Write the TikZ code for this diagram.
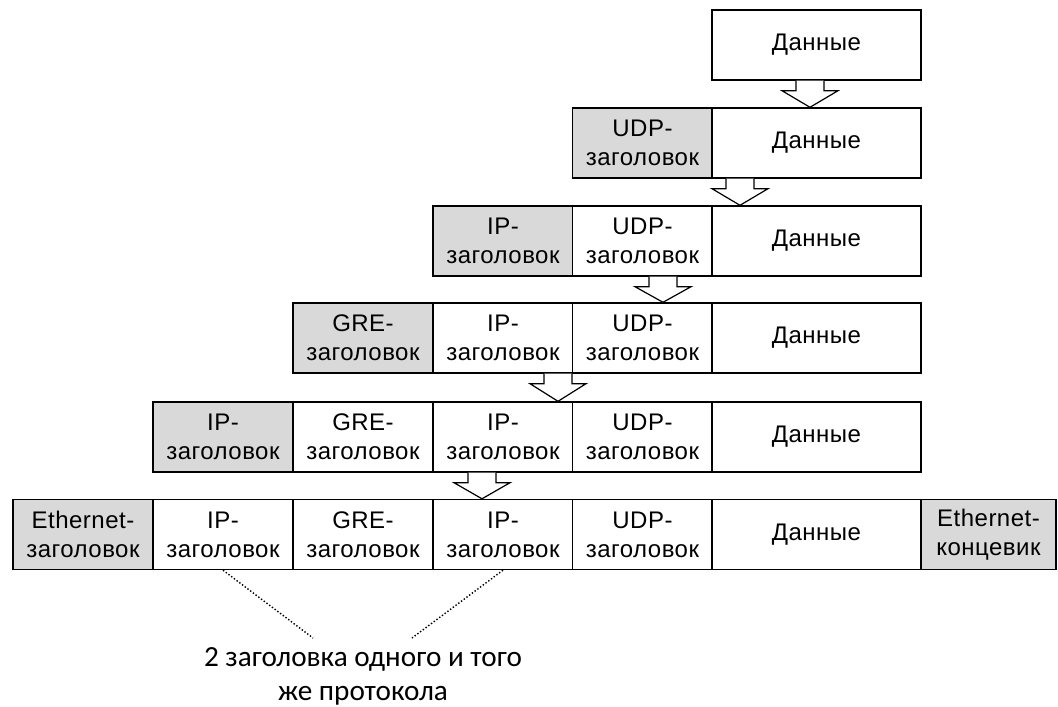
\documentclass[tikz,border=0pt]{standalone}
\usepackage{fontspec}
\setmainfont[LetterSpace=2]{Liberation Sans}
\newfontfamily\notefont{Carlito}
\usetikzlibrary{calc}
\tikzset{
  cell/.style={draw, line width=1.4pt, minimum height=70pt, inner sep=0pt, align=center,
    font=\fontsize{24}{29}\selectfont},
  hdr/.style={cell, fill=black!15},
  dat/.style={cell, fill=white},
  blockarrow/.style={draw, line width=1.2pt, fill=white, line join=miter},
  guide/.style={dotted, line width=1.4pt},
  note/.style={align=center, font=\notefont\fontsize{29.2}{34}\selectfont, inner sep=0pt},
}
\newcommand\blockarr[3]{%
  \draw[blockarrow] let \p1=(#2.south), \p2=(#3.north) in
    (#1pt-14pt,\y1) -- (#1pt-14pt,\y1-10pt) -- (#1pt-28pt,\y1-10pt) -- (#1pt,\y2)
    -- (#1pt+28pt,\y1-10pt) -- (#1pt+14pt,\y1-10pt) -- (#1pt+14pt,\y1);}
\begin{document}
\begin{tikzpicture}[x=1pt,y=-1pt]
\useasboundingbox (0,0) rectangle (1058,707);
% row 1
\node[dat, minimum width=209pt] (r1d) at (816.5,45) {Данные};
% row 2
\node[hdr, minimum width=140pt] (r2u) at (642.5,143) {UDP-\\заголовок};
\node[dat, minimum width=209pt] (r2d) at (816.5,143) {Данные};
% row 3
\node[hdr, minimum width=140pt] (r3i) at (503,241) {IP-\\заголовок};
\node[dat, minimum width=140pt] (r3u) at (642.5,241) {UDP-\\заголовок};
\node[dat, minimum width=209pt] (r3d) at (816.5,241) {Данные};
% row 4
\node[hdr, minimum width=140pt] (r4g) at (363,338) {GRE-\\заголовок};
\node[dat, minimum width=140pt] (r4i) at (503,338) {IP-\\заголовок};
\node[dat, minimum width=140pt] (r4u) at (642.5,338) {UDP-\\заголовок};
\node[dat, minimum width=209pt] (r4d) at (816.5,338) {Данные};
% row 5
\node[hdr, minimum width=140pt] (r5i1) at (223,437) {IP-\\заголовок};
\node[dat, minimum width=140pt] (r5g) at (363,437) {GRE-\\заголовок};
\node[dat, minimum width=140pt] (r5i2) at (503,437) {IP-\\заголовок};
\node[dat, minimum width=140pt] (r5u) at (642.5,437) {UDP-\\заголовок};
\node[dat, minimum width=209pt] (r5d) at (816.5,437) {Данные};
% row 6
\node[hdr, minimum width=140pt] (r6e) at (83,534.5) {Ethernet-\\заголовок};
\node[dat, minimum width=140pt] (r6i1) at (223,534.5) {IP-\\заголовок};
\node[dat, minimum width=140pt] (r6g) at (363,534.5) {GRE-\\заголовок};
\node[dat, minimum width=140pt] (r6i2) at (503,534.5) {IP-\\заголовок};
\node[dat, minimum width=140pt] (r6u) at (642.5,534.5) {UDP-\\заголовок};
\node[dat, minimum width=209pt] (r6d) at (816.5,534.5) {Данные};
\node[hdr, minimum width=135pt] (r6t) at (988.5,534.5) {Ethernet-\\концевик};
% arrows
\blockarr{810}{r1d}{r2d}
\blockarr{740}{r2d}{r3d}
\blockarr{663}{r3u}{r4u}
\blockarr{558}{r4i}{r5i2}
\blockarr{482}{r5i2}{r6i2}
% note
\node[note] (nt) at (363,676) {2 заголовка одного и того\\же протокола};
\coordinate (cl) at (313,638);
\coordinate (cr) at (412,638);
\draw[guide] (r6i1.south) -- (cl);
\draw[guide] (r6i2.south) -- (cr);
\end{tikzpicture}
\end{document}
